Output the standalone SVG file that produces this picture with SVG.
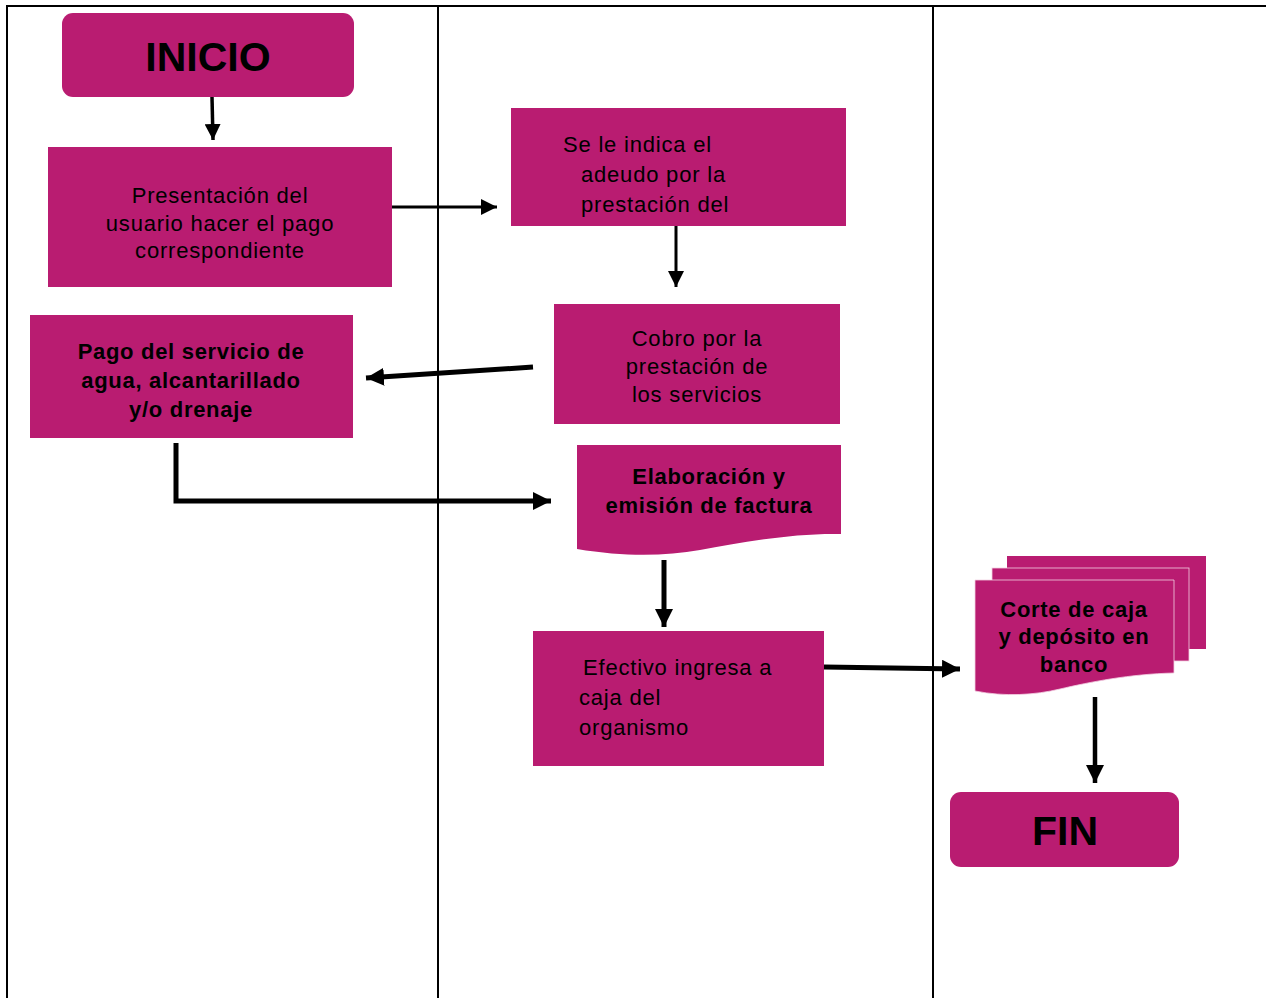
<svg xmlns="http://www.w3.org/2000/svg" width="1267" height="998" viewBox="0 0 1267 998">
<style>
.box{fill:#B91C71;}
.t{font-family:"Liberation Sans",Arial,sans-serif;font-size:22px;letter-spacing:0.8px;fill:#000;}
.b{font-family:"Liberation Sans",Arial,sans-serif;font-size:22px;font-weight:bold;letter-spacing:0.7px;fill:#000;}
.big{font-family:"Liberation Sans",Arial,sans-serif;font-size:41px;font-weight:bold;fill:#000;}
.lane{stroke:#000;stroke-width:2;fill:none;}
.c{stroke:#000;fill:none;}
</style>
<defs>
<marker id="ah" viewBox="0 0 10 10" refX="10" refY="5" markerUnits="userSpaceOnUse" markerWidth="16" markerHeight="16" orient="auto"><path d="M0,0 L10,5 L0,10 Z" fill="#000"/></marker>
<marker id="ahb" viewBox="0 0 10 10" refX="10" refY="5" markerUnits="userSpaceOnUse" markerWidth="18" markerHeight="18" orient="auto"><path d="M0,0 L10,5 L0,10 Z" fill="#000"/></marker>
</defs>
<rect width="1267" height="998" fill="#fff"/>
<g id="lanes">
<line class="lane" x1="6" y1="6" x2="1266" y2="6"/>
<line class="lane" x1="7" y1="5" x2="7" y2="998"/>
<line class="lane" x1="438" y1="6" x2="438" y2="998"/>
<line class="lane" x1="933" y1="6" x2="933" y2="998"/>
</g>
<g id="inicio">
<rect class="box" x="62" y="13" width="292" height="84" rx="11"/>
<text class="big" x="208" y="71" text-anchor="middle">INICIO</text>
</g>
<g id="presentacion">
<rect class="box" x="48" y="147" width="344" height="140"/>
<text class="t" text-anchor="middle"><tspan x="220" y="203">Presentación del</tspan><tspan x="220" y="231">usuario hacer el pago</tspan><tspan x="220" y="258">correspondiente</tspan></text>
</g>
<g id="adeudo">
<rect class="box" x="511" y="108" width="335" height="118"/>
<text class="t"><tspan x="563" y="152">Se le indica el</tspan><tspan x="581" y="182">adeudo por la</tspan><tspan x="581" y="212">prestación del</tspan></text>
</g>
<g id="cobro">
<rect class="box" x="554" y="304" width="286" height="120"/>
<text class="t" text-anchor="middle"><tspan x="697" y="346">Cobro por la</tspan><tspan x="697" y="374">prestación de</tspan><tspan x="697" y="402">los servicios</tspan></text>
</g>
<g id="pago">
<rect class="box" x="30" y="315" width="323" height="123"/>
<text class="b" text-anchor="middle"><tspan x="191" y="359">Pago del servicio de</tspan><tspan x="191" y="388">agua, alcantarillado</tspan><tspan x="191" y="417">y/o drenaje</tspan></text>
</g>
<g id="factura">
<path class="box" d="M577,445 H841 V534 C790,533 740,543 700,550 C665,556 625,557 577,549 Z"/>
<text class="b" text-anchor="middle"><tspan x="709" y="484">Elaboración y</tspan><tspan x="709" y="513">emisión de factura</tspan></text>
</g>
<g id="efectivo">
<rect class="box" x="533" y="631" width="291" height="135"/>
<text class="t"><tspan x="583" y="675">Efectivo ingresa a</tspan><tspan x="579" y="705">caja del</tspan><tspan x="579" y="735">organismo</tspan></text>
</g>
<g id="corte">
<rect class="box" x="1007" y="556" width="199" height="93"/>
<rect class="box" x="992" y="568" width="197" height="93" stroke="#f2d0e2" stroke-width="0.8"/>
<path class="box" d="M975,580 H1174 V673 C1130,674 1090,682 1060,689 C1035,695 1005,697 975,691 Z" stroke="#f2d0e2" stroke-width="0.8"/>
<text class="b" text-anchor="middle"><tspan x="1074" y="617">Corte de caja</tspan><tspan x="1074" y="644">y depósito en</tspan><tspan x="1074" y="672">banco</tspan></text>
</g>
<g id="fin">
<rect class="box" x="950" y="792" width="229" height="75" rx="11"/>
<text class="big" x="1065" y="845" text-anchor="middle">FIN</text>
</g>
<g id="connectors">
<line class="c" stroke-width="3.5" x1="212" y1="97" x2="213" y2="140" marker-end="url(#ah)"/>
<line class="c" stroke-width="3" x1="392" y1="207" x2="497" y2="207" marker-end="url(#ah)"/>
<line class="c" stroke-width="3" x1="676" y1="226" x2="676" y2="287" marker-end="url(#ah)"/>
<line class="c" stroke-width="5" x1="533" y1="367" x2="366" y2="378" marker-end="url(#ahb)"/>
<polyline class="c" stroke-width="5" points="176,443 176,501 551,501" marker-end="url(#ahb)"/>
<line class="c" stroke-width="5" x1="664" y1="560" x2="664" y2="627" marker-end="url(#ahb)"/>
<line class="c" stroke-width="5" x1="824" y1="667" x2="960" y2="669" marker-end="url(#ahb)"/>
<line class="c" stroke-width="4.5" x1="1095" y1="697" x2="1095" y2="783" marker-end="url(#ahb)"/>
</g>
</svg>
